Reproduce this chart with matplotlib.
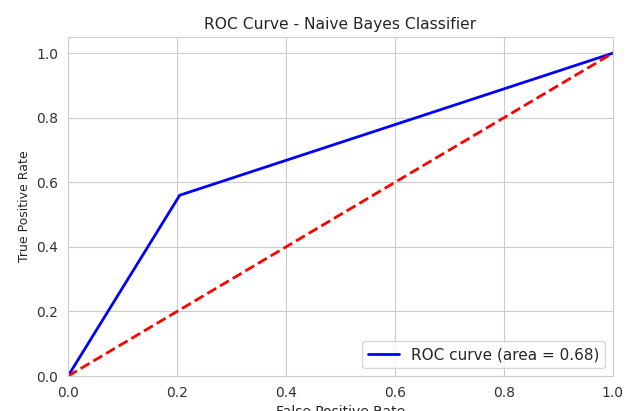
import matplotlib
matplotlib.use("Agg")
import matplotlib.pyplot as plt
import seaborn as sns

sns.set_style("whitegrid")

# roc points
fpr = [0.0, 0.205, 1.0]
tpr = [0.0, 0.56, 1.0]
roc_auc = 0.68
diag = [0.0, 1.0]

fig = plt.figure(figsize=(6.27, 4.11), dpi=100)
ax = fig.add_axes([0.1085, 0.085, 0.869, 0.825])

ax.plot(fpr, tpr, color='blue', lw=2, label='ROC curve (area = %0.2f)' % roc_auc)
ax.plot(diag, diag, color='red', lw=2, linestyle='--')
ax.set_xlim(0.0, 1.0)
ax.set_ylim(0.0, 1.05)
ax.set_xlabel('False Positive Rate', fontsize=10)
ax.set_ylabel('True Positive Rate', fontsize=9)
ax.set_title('ROC Curve - Naive Bayes Classifier', fontsize=11.2)
ax.tick_params(labelsize=10, colors='#333333')
ax.legend(loc='lower right', fontsize=11)

fig.savefig('out.png', dpi=100)
